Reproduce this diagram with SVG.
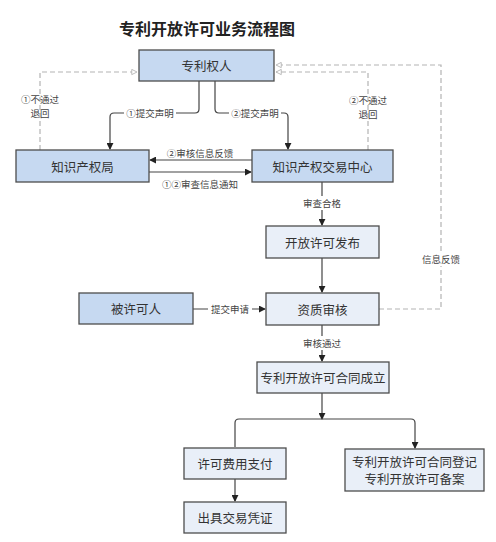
<svg xmlns="http://www.w3.org/2000/svg" width="496" height="542" viewBox="0 0 496 542">
<style>
.bx{stroke:#4d4d4d;stroke-width:1.3}
.dk{fill:#c6d9f1}
.lt{fill:#e9eff8}
.t{font-family:"Noto Sans CJK SC","Noto Sans",sans-serif;font-size:12.5px;fill:#333;text-anchor:middle;dominant-baseline:central}
.l{font-family:"Noto Sans CJK SC","Noto Sans",sans-serif;font-size:9.5px;fill:#444;text-anchor:middle;dominant-baseline:central}
.c{fill:none;stroke:#444;stroke-width:1.2}
.d{fill:none;stroke:#b3b3b3;stroke-width:1.2;stroke-dasharray:5 3}
.bg{fill:#fff}
</style>
<defs>
<marker id="a" viewBox="0 0 8 8" refX="7" refY="4" markerWidth="7" markerHeight="7" markerUnits="userSpaceOnUse" orient="auto"><path d="M0,0 L8,4 L0,8 z" fill="#222"/></marker>
<marker id="o" viewBox="0 0 8 8" refX="7" refY="4" markerWidth="7" markerHeight="7" markerUnits="userSpaceOnUse" orient="auto"><path d="M1,1 L7,4 L1,7 z" fill="#fff" stroke="#b3b3b3" stroke-width="1"/></marker>
</defs>
<rect width="496" height="542" fill="#fff"/>
<text x="207" y="28" font-family="Noto Sans CJK SC,sans-serif" font-size="16" font-weight="bold" fill="#222" text-anchor="middle" dominant-baseline="central">专利开放许可业务流程图</text>
<g id="connectors">
<path class="c" d="M199,81 V109 Q199,113 195,113 H114 Q110,113 110,117 V149" marker-end="url(#a)"/>
<path class="c" d="M215,81 V109 Q215,113 219,113 H284 Q288,113 288,117 V149" marker-end="url(#a)"/>
<path class="d" d="M40,150 V72 H137" marker-end="url(#o)"/>
<path class="d" d="M368,150 V72 H276" marker-end="url(#o)"/>
<path class="d" d="M379,309 H441 V65 H276" marker-end="url(#o)"/>
<path class="c" d="M252,160 H150" marker-end="url(#a)"/>
<path class="c" d="M149,172 H251" marker-end="url(#a)"/>
<path class="c" d="M322,182 V225" marker-end="url(#a)"/>
<path class="c" d="M322,258 V292" marker-end="url(#a)"/>
<path class="c" d="M193,309 H265" marker-end="url(#a)"/>
<path class="c" d="M322,325 V361" marker-end="url(#a)"/>
<path class="c" d="M322,393 V419" marker-end="url(#a)"/>
<path class="c" d="M235,447 V423 Q235,419 239,419 H411 Q415,419 415,423 V448" marker-end="url(#a)"/>
<path class="c" d="M235,479 V501" marker-end="url(#a)"/>
<rect class="bg" x="124" y="106" width="52" height="14"/>
<text class="l" x="150" y="113">①提交声明</text>
<rect class="bg" x="229" y="106" width="52" height="14"/>
<text class="l" x="255" y="113">②提交声明</text>
<text class="l" x="40" y="98.5" font-size="9">①不通过</text>
<text class="l" x="40" y="112.5" font-size="9">退回</text>
<text class="l" x="368" y="99.5" font-size="9">②不通过</text>
<text class="l" x="368" y="113.5" font-size="9">退回</text>
<rect class="bg" x="420" y="252" width="42" height="14"/>
<text class="l" x="441" y="259">信息反馈</text>
<text class="l" x="200" y="153">②审核信息反馈</text>
<text class="l" x="200" y="184">①②审查信息通知</text>
<rect class="bg" x="300" y="196" width="44" height="14"/>
<text class="l" x="322" y="203">审查合格</text>
<rect class="bg" x="208" y="302" width="44" height="14"/>
<text class="l" x="230" y="309">提交申请</text>
<rect class="bg" x="300" y="336" width="44" height="14"/>
<text class="l" x="322" y="343">审核通过</text>
</g>
<g id="n1"><rect class="bx dk" x="139" y="50" width="135" height="31"/><text class="t" x="206.5" y="65.5">专利权人</text></g>
<g id="n2"><rect class="bx dk" x="16" y="150" width="133" height="32"/><text class="t" x="82.5" y="166">知识产权局</text></g>
<g id="n3"><rect class="bx dk" x="252" y="150" width="141" height="32"/><text class="t" x="322.5" y="166">知识产权交易中心</text></g>
<g id="n4"><rect class="bx lt" x="266" y="226" width="113" height="32"/><text class="t" x="322.5" y="242">开放许可发布</text></g>
<g id="n5"><rect class="bx dk" x="79" y="293" width="114" height="31"/><text class="t" x="136" y="308.5">被许可人</text></g>
<g id="n6"><rect class="bx lt" x="266" y="293" width="113" height="32"/><text class="t" x="322.5" y="309">资质审核</text></g>
<g id="n7"><rect class="bx lt" x="257" y="362" width="132" height="31"/><text class="t" x="323" y="377.5">专利开放许可合同成立</text></g>
<g id="n8"><rect class="bx lt" x="184" y="448" width="102" height="31"/><text class="t" x="235" y="463.5">许可费用支付</text></g>
<g id="n9"><rect class="bx lt" x="345" y="449" width="139" height="42"/><text class="t" x="414.5" y="461.2" font-size="12">专利开放许可合同登记</text><text class="t" x="414.5" y="478.8" font-size="12">专利开放许可备案</text></g>
<g id="n10"><rect class="bx lt" x="184" y="502" width="102" height="31"/><text class="t" x="235" y="517.5">出具交易凭证</text></g>
</svg>
